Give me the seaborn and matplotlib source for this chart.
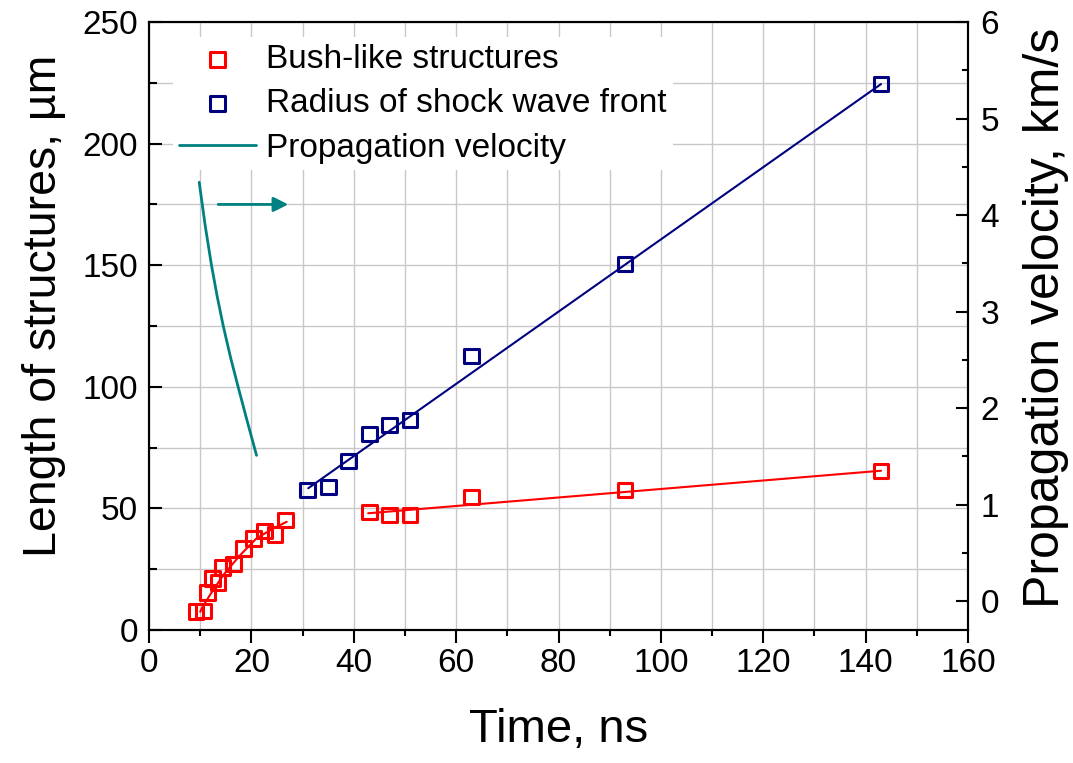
import numpy as np
import matplotlib
matplotlib.use("Agg")
import matplotlib.pyplot as plt
from matplotlib.ticker import MultipleLocator
import seaborn as sns

# --- data ------------------------------------------------------------------
bush_time = [9.2, 10.7, 11.4, 12.4, 13.5, 14.4, 16.5, 18.4, 20.4, 22.5, 24.6, 26.6,
             43, 47, 51, 63, 93, 143]
bush_len = [7.5, 7.8, 15.5, 21.3, 19.6, 25.6, 27.1, 33.6, 37.7, 40.7, 39.4, 45.2,
            48.5, 47.3, 47.3, 54.7, 57.6, 65.4]

shock_time = [31, 35, 39, 43, 47, 51, 63, 93, 143]
shock_rad = [57.6, 58.8, 69.5, 80.6, 84.3, 86.3, 112.7, 150.5, 224.5]

# fit curves as drawn in the figure
bush_fit1_t = [10.0, 10.3, 11.9, 14.5, 17.8, 21.0, 24.3, 26.9]
bush_fit1_y = [7.5, 8.9, 14.4, 22.6, 30.8, 37.7, 41.8, 44.5]
bush_fit2_t = [42.8, 143]
bush_fit2_y = [48.0, 65.5]
shock_fit_t = [31.1, 143]
shock_fit_y = [58.3, 224.5]

vel_time = [9.8, 11.0, 12.2, 13.3, 14.5, 15.9, 17.4, 19.2, 21.0]
vel_kms = [4.34, 3.88, 3.48, 3.16, 2.85, 2.53, 2.22, 1.86, 1.51]

# arrow pointing to the right axis (data coords of left axis)
arrow_from = (13.5, 175)
arrow_to = (27.2, 175)

RED = "#ff0000"
NAVY = "#000080"
TEAL = "#008080"

sns.set_style("white")
plt.rcParams['font.family'] = ['Liberation Sans', 'DejaVu Sans']
plt.rcParams['axes.unicode_minus'] = False
plt.rcParams.update({'text.color': 'black', 'axes.labelcolor': 'black',
                     'xtick.color': 'black', 'ytick.color': 'black'})

fig = plt.figure(figsize=(10.73, 7.63), dpi=100)
ax = fig.add_axes([0.1389, 0.1743, 0.7633, 0.7968])

# grid
ax.set_axisbelow(True)
ax.grid(True, which='both', color='#c8c8c8', linewidth=1.0)

sns.lineplot(x=bush_fit1_t, y=bush_fit1_y, color=RED, linewidth=1.5, ax=ax, sort=False)
sns.lineplot(x=bush_fit2_t, y=bush_fit2_y, color=RED, linewidth=1.5, ax=ax)
sns.lineplot(x=shock_fit_t, y=shock_fit_y, color=NAVY, linewidth=1.5, ax=ax)

sns.scatterplot(x=bush_time, y=bush_len, marker='s', s=112, facecolor='none',
                edgecolor=RED, linewidth=2.2, ax=ax, legend=False,
                label='Bush-like structures', zorder=3)
sns.scatterplot(x=shock_time, y=shock_rad, marker='s', s=112, facecolor='none',
                edgecolor=NAVY, linewidth=2.2, ax=ax, legend=False,
                label='Radius of shock wave front', zorder=3)

ax.set_xlim(0, 160)
ax.set_ylim(0, 250)
ax.xaxis.set_major_locator(MultipleLocator(20))
ax.xaxis.set_minor_locator(MultipleLocator(10))
ax.yaxis.set_major_locator(MultipleLocator(50))
ax.yaxis.set_minor_locator(MultipleLocator(25))

ax.tick_params(axis='x', which='both', direction='out', top=False, bottom=True,
               labelsize=24, width=1.5, pad=4)
ax.tick_params(axis='x', which='major', length=9)
ax.tick_params(axis='x', which='minor', length=4)
ax.tick_params(axis='y', which='both', direction='in', left=True, right=False,
               labelsize=24, width=1.5, pad=8)
ax.tick_params(axis='y', which='major', length=9.5)
ax.tick_params(axis='y', which='minor', length=5.5)

ax.set_xlabel('Time, ns', fontsize=34, labelpad=21)
ax.set_ylabel('Length of structures, µm', fontsize=33.5, labelpad=12)
ax.yaxis.label.set_y(0.533)

for sp in ax.spines.values():
    sp.set_linewidth(1.5)
    sp.set_color('black')

ax.annotate('', xy=arrow_to, xytext=arrow_from,
            arrowprops=dict(arrowstyle='-|>', color=TEAL, lw=2, mutation_scale=22,
                            shrinkA=0, shrinkB=0))

# right axis: propagation velocity
ax2 = ax.twinx()
sns.lineplot(x=vel_time, y=vel_kms, color=TEAL, linewidth=2, ax=ax2,
             label='Propagation velocity', legend=False)
ax2.set_ylim(-0.3, 6)
ax2.yaxis.set_major_locator(MultipleLocator(1))
ax2.yaxis.set_minor_locator(MultipleLocator(0.5))
ax2.tick_params(axis='y', which='both', direction='in', right=True, left=False,
                labelsize=24, width=1.5, pad=9)
ax2.tick_params(axis='y', which='major', length=9)
ax2.tick_params(axis='y', which='minor', length=4.5)
ax2.set_ylabel('Propagation velocity, km/s', fontsize=36, labelpad=17)
ax2.yaxis.label.set_y(0.513)
for sp in ax2.spines.values():
    sp.set_linewidth(1.5)
    sp.set_color('black')
ax2.grid(False)

h1, l1 = ax.get_legend_handles_labels()
h2, l2 = ax2.get_legend_handles_labels()
leg = ax2.legend(h1 + h2, l1 + l2, loc='upper left', bbox_to_anchor=(0.029, 0.975),
                 borderaxespad=0, fontsize=24, frameon=True, facecolor='white',
                 edgecolor='none', framealpha=1, fancybox=False, borderpad=0.2,
                 labelspacing=0.4, handlelength=2.3, handletextpad=0.3,
                 scatterpoints=1)

fig.savefig('out.png', dpi=100)
